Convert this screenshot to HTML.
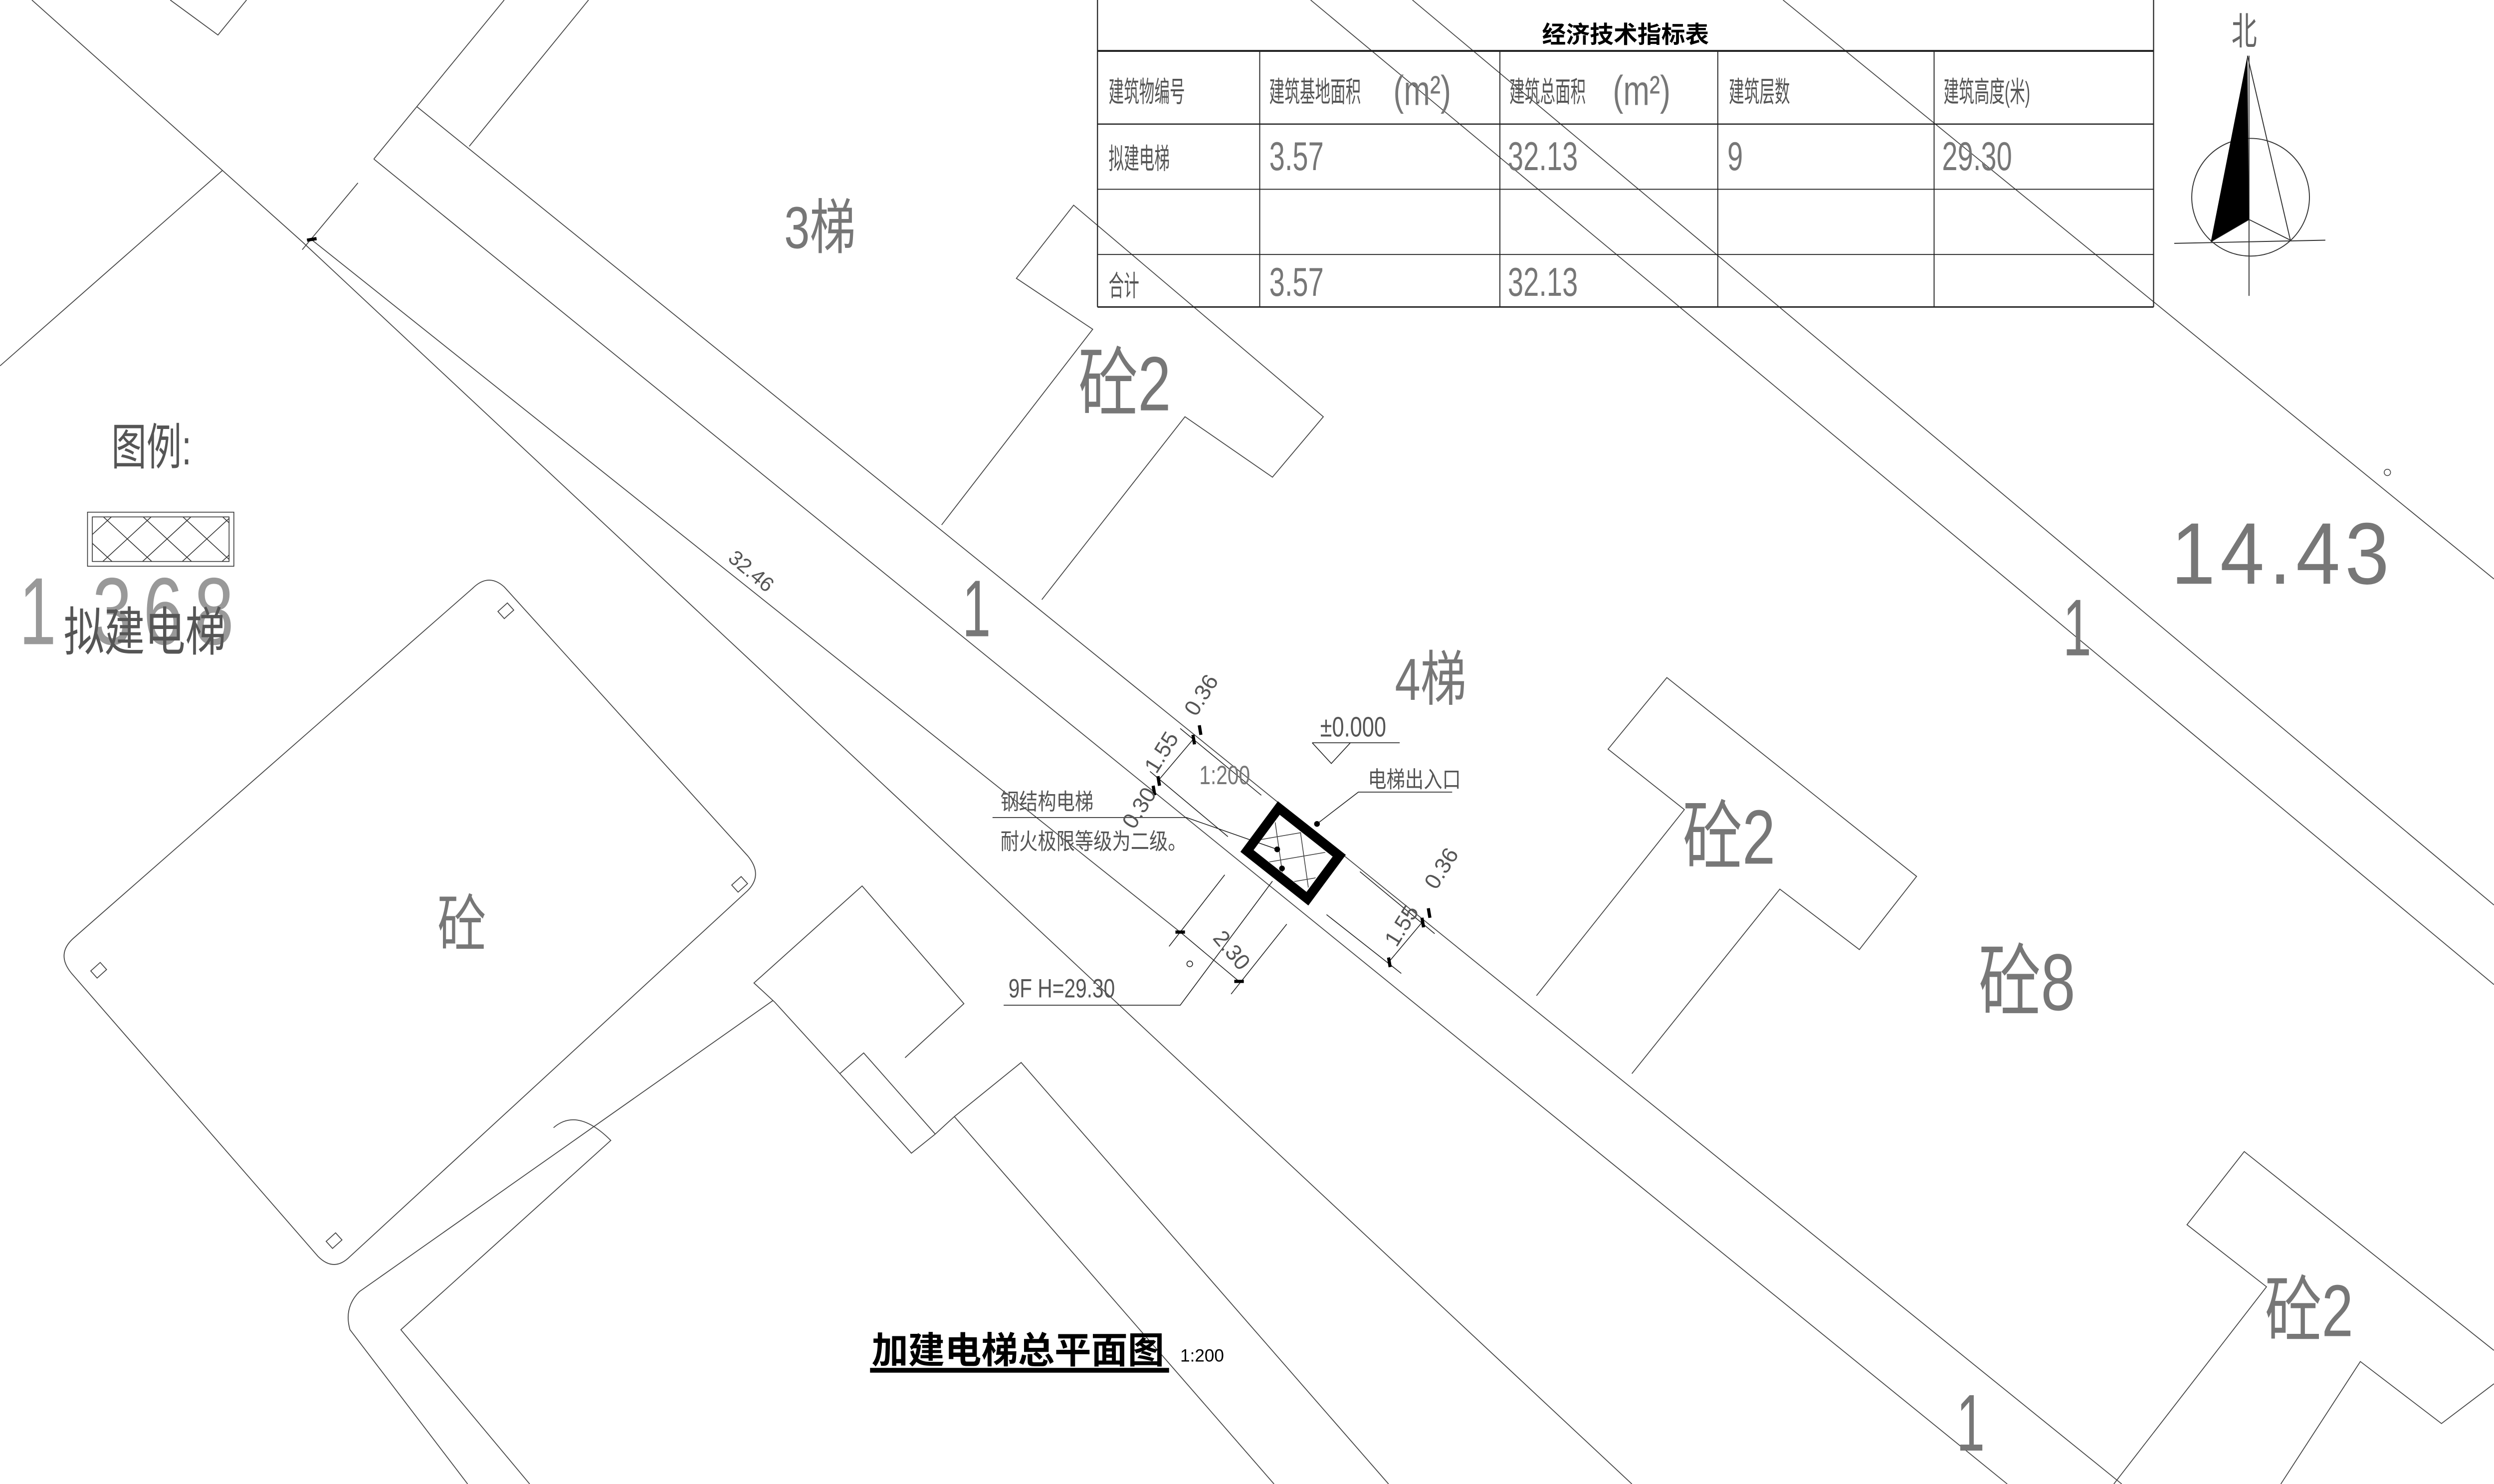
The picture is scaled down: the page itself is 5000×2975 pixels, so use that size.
<!DOCTYPE html>
<html><head><meta charset="utf-8">
<style>
html,body{margin:0;padding:0;background:#fff;}
svg{display:block;}
text{font-family:"Liberation Sans","Noto Sans CJK SC",sans-serif;}
</style></head>
<body>
<svg width="5000" height="2975" viewBox="0 0 1568 933" xmlns="http://www.w3.org/2000/svg">
<rect width="1568" height="933" fill="#fff"/>
<g fill="none" stroke="#444" stroke-width="0.55">
<polyline points="107,0 137,22 155,0"/>
<line x1="0" y1="230" x2="140" y2="107"/>
<polyline points="20,0 190,152 1026,933"/>
<line x1="317" y1="0" x2="235" y2="100"/>
<line x1="370" y1="0" x2="295" y2="92"/>
<line x1="262" y1="67" x2="1334" y2="933"/>
<line x1="235" y1="100" x2="1262" y2="933"/>
<line x1="195" y1="150" x2="742" y2="586"/>
<line x1="190" y1="157" x2="225" y2="115"/>
<line x1="824" y1="0" x2="1568" y2="619"/>
<line x1="888" y1="0" x2="1568" y2="569"/>
<line x1="1121" y1="0" x2="1568" y2="364"/>
<polyline points="592,330 687,207 639,175 675,129 832,262 800,300 745,262 655,377"/>
<polyline points="966,626 1059,509 1011,471 1048,426 1205,551 1169,597 1119,559 1026,675"/>
<polyline points="1329,933 1425,809 1375,770 1411,724 1568,849"/>
<polyline points="1568,870 1535,895 1484,856 1434,933"/>
<path d="M297,370 Q307,360 317,369 L470,538 Q480,550 470,560 L220,790 Q210,800 200,790 L45,612 Q35,600 46,590 Z"/>
<g transform="translate(318,384) rotate(-42)"><rect x="-4" y="-3" width="8" height="6"/></g>
<g transform="translate(465,556) rotate(-42)"><rect x="-4" y="-3" width="8" height="6"/></g>
<g transform="translate(62,610) rotate(-42)"><rect x="-4" y="-3" width="8" height="6"/></g>
<g transform="translate(210,780) rotate(-42)"><rect x="-4" y="-3" width="8" height="6"/></g>
<polyline points="487,630 474,618 542,557 606,631 569,665"/>
<polyline points="487,630 528,675 543,662 588,713 573,725 528,675"/>
<polyline points="588,713 600,702 642,668 873,933"/>
<line x1="600" y1="702" x2="801" y2="933"/>
<path d="M486,629 L226,812 Q216,822 220,836 L294,933"/>
<path d="M348,709 Q363,696 384,717 L252,836 L333,933"/>
</g>

<g stroke="#222" fill="none">
<line x1="690" y1="0" x2="690" y2="193" stroke-width="0.7"/>
<line x1="1354" y1="0" x2="1354" y2="193" stroke-width="0.7"/>
<line x1="690" y1="32" x2="1354" y2="32" stroke-width="1.2"/>
<line x1="690" y1="78" x2="1354" y2="78" stroke-width="0.8"/>
<line x1="690" y1="119" x2="1354" y2="119" stroke-width="0.6"/>
<line x1="690" y1="160" x2="1354" y2="160" stroke-width="0.6"/>
<line x1="690" y1="193" x2="1354" y2="193" stroke-width="0.9"/>
<line x1="792" y1="32" x2="792" y2="193" stroke-width="0.6"/>
<line x1="943" y1="32" x2="943" y2="193" stroke-width="0.6"/>
<line x1="1080" y1="32" x2="1080" y2="193" stroke-width="0.6"/>
<line x1="1216" y1="32" x2="1216" y2="193" stroke-width="0.6"/>
</g>
<text x="1022" y="27" font-size="15" font-weight="bold" text-anchor="middle" fill="#000">经济技术指标表</text>
<g fill="#555" font-size="12">
<text transform="translate(697,64) scale(0.8,1.5)">建筑物编号</text>
<text transform="translate(798,64) scale(0.8,1.5)">建筑基地面积</text>
<text transform="translate(949,64) scale(0.8,1.5)">建筑总面积</text>
<text transform="translate(1087,64) scale(0.8,1.5)">建筑层数</text>
<text transform="translate(1222,64) scale(0.8,1.5)">建筑高度(米)</text>
<text transform="translate(697,106) scale(0.8,1.5)">拟建电梯</text>
<text transform="translate(697,186) scale(0.8,1.5)">合计</text>
</g>
<g fill="#777" font-size="22">
<text transform="translate(876,66) scale(0.9,1.2)">(m²)</text>
<text transform="translate(1014,66) scale(0.9,1.2)">(m²)</text>
<text transform="translate(798,107) scale(0.8,1.15)">3.57</text>
<text transform="translate(948,107) scale(0.8,1.15)">32.13</text>
<text transform="translate(1086,107) scale(0.8,1.15)">9</text>
<text transform="translate(1221,107) scale(0.8,1.15)">29.30</text>
<text transform="translate(798,186) scale(0.8,1.15)">3.57</text>
<text transform="translate(948,186) scale(0.8,1.15)">32.13</text>
</g>

<text transform="translate(1403,28) scale(0.8,1.2)" font-size="20" fill="#666">北</text>
<g stroke="#333" stroke-width="0.6" fill="none">
<circle cx="1415" cy="124" r="37"/>
<line x1="1414" y1="35" x2="1414" y2="186"/>
<line x1="1367" y1="153" x2="1462" y2="151"/>
<polyline points="1413,35 1440,151 1414,138 1390,152"/>
</g>
<polygon points="1413,35 1414,138 1390,152" fill="#000"/>

<text transform="translate(70,292) scale(0.85,1.2)" font-size="26" fill="#555">图例:</text>
<g stroke="#333" stroke-width="0.5" fill="none">
<rect x="55" y="322" width="92" height="34"/>
<rect x="58" y="325" width="86" height="28"/>
<clipPath id="lg"><rect x="58" y="325" width="86" height="28"/></clipPath>
<g clip-path="url(#lg)">
<path d="M40,325 l38,35 M65,325 l38,35 M90,325 l38,35 M115,325 l38,35 M140,325 l38,35 M15,325 l38,35
M70,325 l-38,35 M95,325 l-38,35 M120,325 l-38,35 M145,325 l-38,35 M170,325 l-38,35 M195,325 l-38,35"/>
</g>
</g>
<g fill="#999" font-size="60">
<text transform="translate(12,405) scale(0.7,1)">1</text>
<text transform="translate(58,405) scale(0.75,1)">3</text>
<text transform="translate(90,405) scale(0.75,1)">6</text>
<text transform="translate(122,405) scale(0.75,1)">8</text>
</g>
<text transform="translate(40,409) scale(0.85,1.1)" font-size="30" fill="#555">拟建电梯</text>

<g fill="#777">
<text transform="translate(493,156) scale(0.85,1.1)" font-size="34">3梯</text>
<text transform="translate(678,258) scale(0.85,1.1)" font-size="44">砼2</text>
<text transform="translate(605,400) scale(0.7,1.1)" font-size="46">1</text>
<text transform="translate(877,440) scale(0.85,1.1)" font-size="34">4梯</text>
<text transform="translate(1058,543) scale(0.85,1.1)" font-size="44">砼2</text>
<text transform="translate(1244,635) scale(0.85,1.1)" font-size="46">砼8</text>
<text transform="translate(1424,840) scale(0.85,1.1)" font-size="42">砼2</text>
<text transform="translate(275,595) scale(0.85,1.1)" font-size="36">砼</text>
<text transform="translate(1297,412) scale(0.7,1.1)" font-size="46">1</text>
<text transform="translate(1230,912) scale(0.7,1.1)" font-size="46">1</text>
<text transform="translate(1365,367) scale(1.0,1.1)" font-size="50" letter-spacing="3">14.43</text>
</g>
<circle cx="1501" cy="297" r="2" fill="none" stroke="#444" stroke-width="0.5"/>
<text transform="translate(457,352) rotate(40)" font-size="13" fill="#555">32.46</text>

<g stroke="#222" stroke-width="0.5" fill="none">
<line x1="742" y1="458" x2="793" y2="500"/>
<line x1="723" y1="485" x2="772" y2="526"/>
<line x1="750" y1="465" x2="728" y2="491"/>
<line x1="855" y1="548" x2="902" y2="587"/>
<line x1="834" y1="575" x2="881" y2="612"/>
<line x1="894" y1="580" x2="873" y2="605"/>
<line x1="742" y1="586" x2="779" y2="617"/>
<line x1="735" y1="595" x2="770" y2="550"/>
<line x1="774" y1="625" x2="809" y2="581"/>
<polyline points="624,514 746,514 803,534"/>
<polyline points="913,498 854,498 828,518"/>
<polyline points="631,632 742,632 800,554"/>
<line x1="825" y1="467" x2="880" y2="467"/>
<polyline points="825,467 837,480 849,467"/>
<circle cx="748" cy="606" r="1.8"/>
</g>
<g stroke="#000" stroke-width="2">
<line x1="754" y1="456" x2="755" y2="462"/>
<line x1="750" y1="462" x2="751" y2="468"/>
<line x1="728" y1="488" x2="729" y2="494"/>
<line x1="725" y1="494" x2="726" y2="500"/>
<line x1="898" y1="571" x2="899" y2="577"/>
<line x1="894" y1="577" x2="895" y2="583"/>
<line x1="873" y1="602" x2="874" y2="608"/>
<line x1="739" y1="586" x2="745" y2="586"/>
<line x1="776" y1="617" x2="782" y2="617"/>
<line x1="193" y1="151" x2="199" y2="150"/>
</g>
<g stroke="#444" stroke-width="0.5">
<clipPath id="el"><polygon points="805,513 837,539 821,560 788,534"/></clipPath>
<g clip-path="url(#el)">
<path d="M780,530 l70,-12 M780,545 l70,-12 M780,560 l70,-12 M800,505 l10,70 M815,505 l10,70"/>
</g>
</g>
<polygon points="804,508 842,538 822,565 784,535" fill="none" stroke="#000" stroke-width="6"/>
<circle cx="803" cy="534" r="1.8" fill="#000"/>
<circle cx="806" cy="546" r="1.8" fill="#000"/>
<circle cx="828" cy="518" r="1.8" fill="#000"/>
<g fill="#555" font-size="13">
<text transform="translate(629,509) scale(0.9,1.1)">钢结构电梯</text>
<text transform="translate(629,534) scale(0.9,1.1)">耐火极限等级为二级。</text>
<text transform="translate(860,495) scale(0.9,1.1)">电梯出入口</text>
</g>
<text transform="translate(830,463) scale(0.85,1.1)" font-size="16" fill="#555">±0.000</text>
<text transform="translate(754,493) scale(0.85,1.1)" font-size="15" fill="#777">1:200</text>
<text transform="translate(634,627) scale(0.85,1.1)" font-size="15" fill="#555">9F H=29.30</text>
<g fill="#555" font-size="14">
<text transform="translate(752,451) rotate(-58)">0.36</text>
<text transform="translate(727,487) rotate(-58)">1.55</text>
<text transform="translate(713,522) rotate(-58)">0.30</text>
<text transform="translate(903,560) rotate(-58)">0.36</text>
<text transform="translate(878,596) rotate(-58)">1.55</text>
<text transform="translate(762,590) rotate(50)">2.30</text>
</g>

<text x="548" y="857" font-size="23" font-weight="bold" fill="#000">加建电梯总平面图</text>
<rect x="547" y="860" width="188" height="3" fill="#000"/>
<text x="742" y="856" font-size="11" fill="#000">1:200</text>
</svg>
</body></html>
